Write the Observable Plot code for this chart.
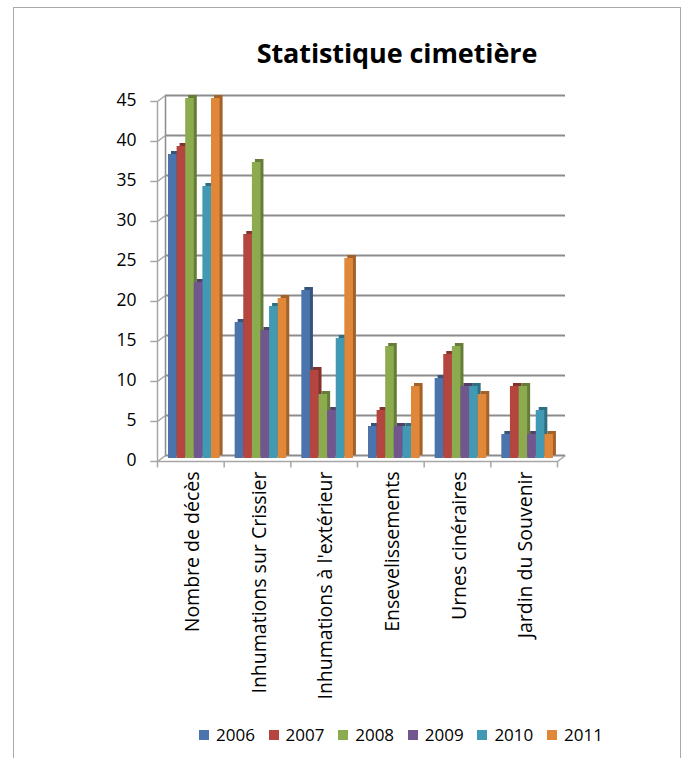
<!DOCTYPE html>
<html>
<head>
<meta charset="utf-8">
<script src="https://cdn.jsdelivr.net/npm/d3@7"></script>
<script src="https://cdn.jsdelivr.net/npm/@observablehq/plot@0.6"></script>
<style>
  html, body { margin: 0; padding: 0; background: #fff; overflow: hidden; }
  #wrap { position: relative; width: 686px; height: 758px; font-family: "Open Sans", sans-serif; }
  #frame { position: absolute; left: 13px; top: 7px; width: 668px; height: 800px; border: 1px solid #a9a9a9; box-sizing: border-box; }
  #title { position: absolute; left: 397px; top: 34px; transform: translateX(-50%); white-space: nowrap;
           font-weight: 700; font-size: 27px; color: #000; letter-spacing: -0.1px; }
  #chart { position: absolute; left: 0; top: 80px; }
  #legend { position: absolute; left: 199px; top: 723px; display: flex; font-size: 17px; color: #000; }
  .item { width: 69.6px; display: flex; align-items: center; }
  .sw { width: 10px; height: 10px; margin-right: 7px; }
</style>
</head>
<body>
<div id="wrap">
  <div id="frame"></div>
  <div id="title">Statistique cimetière</div>
  <div id="chart"></div>
  <div id="legend"></div>
</div>
<script>
const categories = ["Nombre de décès", "Inhumations sur Crissier", "Inhumations à l'extérieur", "Ensevelissements", "Urnes cinéraires", "Jardin du Souvenir"];
const years = ["2006", "2007", "2008", "2009", "2010", "2011"];
const v2006 = [38, 17, 21, 4, 10, 3];
const v2007 = [39, 28, 11, 6, 13, 9];
const v2008 = [45, 37, 8, 14, 14, 9];
const v2009 = [22, 16, 6, 4, 9, 3];
const v2010 = [34, 19, 15, 4, 9, 6];
const v2011 = [45, 20, 25, 9, 8, 3];
const yTicks = [0, 5, 10, 15, 20, 25, 30, 35, 40, 45];
const colors = ["#4a74ab", "#b4463f", "#8cab4f", "#72578f", "#4199b3", "#e0873a"];

const series = [v2006, v2007, v2008, v2009, v2010, v2011];
const data = categories.flatMap((c, ci) => years.map((y, yi) => ({category: c, ci, year: y, yi, value: series[yi][ci]})));

// layout constants (category units / value units)
const barPad = 0.165, barW = 0.129;
const DX = 0.12, DY = 0.75;
const x1 = d => d.ci + barPad + d.yi * barW;
const x2 = d => d.ci + barPad + (d.yi + 1) * barW;
const grid = "#8c8c8c", axisC = "#a6a6a6";
const font = "'Open Sans', sans-serif";

const sideMarks = years.map((y, i) => Plot.rectY(data.filter(d => d.year === y), {
  x1, x2, y1: 0, y2: "value", dx: 3, dy: -3,
  fill: d3.color(colors[i]).darker(0.9).formatHex()
}));

const chart = Plot.plot({
  width: 686,
  height: 640,
  marginLeft: 157,
  marginRight: 129,
  marginTop: 18,
  marginBottom: 262,
  style: {fontFamily: font, fontSize: "17px", color: "#000", background: "transparent", overflow: "visible"},
  x: {domain: [0, 6], axis: null},
  y: {domain: [0, 45], axis: null},
  color: {domain: years, range: colors},
  marks: [
    Plot.ruleY(yTicks, {x1: 0, x2: 6, dx: 8, dy: -3, stroke: grid, strokeWidth: 2}),
    Plot.ruleX([0], {y1: 0, y2: 45, dx: 8, dy: -3, stroke: grid, strokeWidth: 1.5}),
    Plot.link(yTicks, {x1: 0, y1: d => d, x2: DX, y2: d => d + DY, dy: 3, stroke: axisC, strokeWidth: 1.5}),
    Plot.link([6], {x1: d => d, y1: 0, x2: d => d + DX, y2: DY, dy: 3, stroke: axisC, strokeWidth: 1.5}),
    Plot.ruleX([0], {y1: 0, y2: 45, dy: 3, stroke: axisC, strokeWidth: 1.5}),
    Plot.ruleY(yTicks, {x1: -0.1, x2: 0, dy: 3, stroke: axisC, strokeWidth: 1.5}),
    Plot.ruleY([0], {x1: 0, x2: 6, dy: 3, stroke: axisC, strokeWidth: 1.5}),
    Plot.ruleX(d3.range(7), {y1: 0, y2: -0.8, dy: 3, stroke: axisC, strokeWidth: 1.5}),
    ...sideMarks,
    Plot.rectY(data, {x1, x2, y1: 0, y2: "value", fill: "year"}),
    Plot.text(yTicks, {x: 0, y: d => d, dx: -21, dy: 2, textAnchor: "end", fontSize: 17.5, fill: "#000"}),
    Plot.text(categories, {x: (d, i) => i + 0.5, y: 0, dx: 2, dy: 13, rotate: -90, textAnchor: "end", lineAnchor: "middle", fontSize: 19.5, fill: "#000"})
  ]
});
document.getElementById("chart").appendChild(chart);

const cs = chart.scale("color");
const legend = document.getElementById("legend");
cs.domain.forEach((y, i) => {
  const item = document.createElement("div");
  item.className = "item";
  const sw = document.createElement("div");
  sw.className = "sw";
  sw.style.background = cs.range[i];
  const t = document.createElement("span");
  t.textContent = y;
  item.appendChild(sw);
  item.appendChild(t);
  legend.appendChild(item);
});
</script>
</body>
</html>
